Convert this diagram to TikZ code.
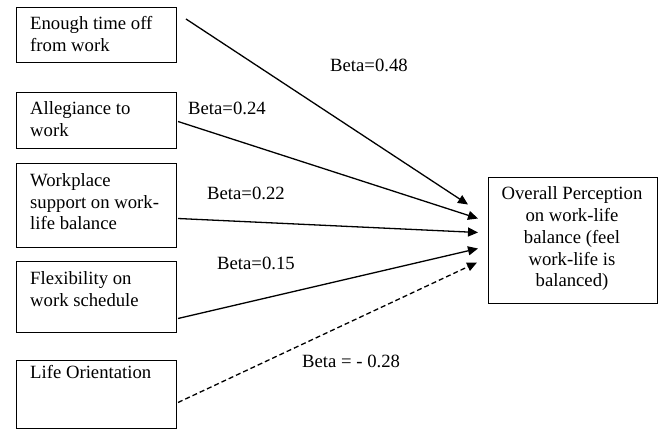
\documentclass[tikz,border=0pt]{standalone}
\usepackage{fontspec}
\setmainfont{Liberation Serif}
\usetikzlibrary{arrows.meta,calc}
\begin{document}
\begin{tikzpicture}[x=1pt,y=-1pt,
  box/.style={draw, line width=1pt, inner sep=0pt, anchor=north west},
  txt/.style={inner sep=0pt, font=\fontsize{18.7}{21.7}\selectfont},
  ltxt/.style={txt, align=left, anchor=base west},
  lab/.style={txt, anchor=base west},
  arr/.style={line width=1.3pt, -{Triangle[length=10pt,width=9pt]}}]
\useasboundingbox (0,0) rectangle (659,430);
\fill[white] (0,0) rectangle (659,430);
% left boxes
\node[box, minimum width=160pt, minimum height=55pt] (b1) at (16,7) {};
\node[box, minimum width=160pt, minimum height=56pt] (b2) at (16,92) {};
\node[box, minimum width=160pt, minimum height=84pt] (b3) at (16,163) {};
\node[box, minimum width=160pt, minimum height=71pt] (b4) at (16,261) {};
\node[box, minimum width=160pt, minimum height=68pt] (b5) at (16,360) {};
% right box
\node[box, minimum width=169pt, minimum height=126pt] (r) at (488,177) {};
% texts
\node[lab] (t1a) at (30,30) {Enough time off};
\node[lab] (t1b) at (30,52) {from work};
\node[lab] (t2a) at (30,115) {Allegiance to};
\node[lab] (t2b) at (30,137) {work};
\node[lab] (t3a) at (30,187) {Workplace};
\node[lab] (t3b) at (30,208.5) {support on work-};
\node[lab] (t3c) at (30,230) {life balance};
\node[lab] (t4a) at (30,285) {Flexibility on};
\node[lab] (t4b) at (30,307) {work schedule};
\node[lab] (t5a) at (30,379) {Life Orientation};
\node[txt, anchor=base] (r1) at (572,200) {Overall Perception};
\node[txt, anchor=base] (r2) at (572,221.7) {on work-life};
\node[txt, anchor=base] (r3) at (572,243.4) {balance (feel};
\node[txt, anchor=base] (r4) at (572,265.1) {work-life is};
\node[txt, anchor=base] (r5) at (572,286.8) {balanced)};
% connectors
\draw[arr] ($(b1.north east)+(9,12)$) -- ($(r.west)+(-20,-36)$);
\draw[arr] ($(b2.east)+(1,1)$) -- ($(r.west)+(-10,-22)$);
\draw[arr] ($(b3.east)+(1,13)$) -- ($(r.west)+(-10,-8)$);
\draw[arr] ($(b4.east)+(1,21.5)$) -- ($(r.west)+(-10,8)$);
\draw[arr, dash pattern=on 5pt off 3pt] ($(b5.east)+(1,8)$) -- ($(r.west)+(-11,22)$);
% labels
\node[lab] (l1) at (330,72) {Beta=0.48};
\node[lab] (l2) at (188,115) {Beta=0.24};
\node[lab] (l3) at (207,200) {Beta=0.22};
\node[lab] (l4) at (217,270) {Beta=0.15};
\node[lab] (l5) at (302,368) {Beta = - 0.28};
\end{tikzpicture}
\end{document}
